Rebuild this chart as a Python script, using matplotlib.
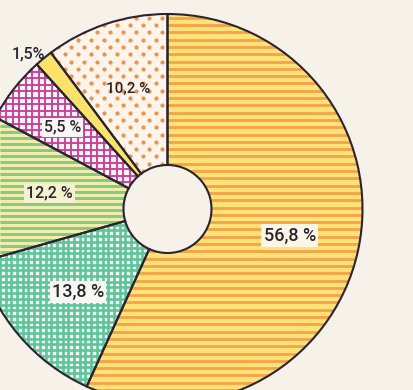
import numpy as np
import matplotlib.pyplot as plt
from matplotlib.collections import LineCollection

# Anteile in Prozent, im Uhrzeigersinn ab 12 Uhr
shares = [56.8, 13.8, 12.2, 5.5, 1.5, 10.2]
gaps = [" ", " ", " ", " ", "", " "]
labels = [f"{v:.1f}".replace(".", ",") + g + "%" for v, g in zip(shares, gaps)]

# Layout (alles in Pixeln der Abbildung)
W, H = 414, 390
cx, cy = 167.5, H - 209
R, r_hole = 195, 44
paper = "#f6f2ea"
ink = "#2a2430"

base_cols = ["#ffe27a", "#f5f8ef", "#f2eea8", "#fbf5f5", "#fbe26a", "#fdf5ec"]
label_r = [125, 122, 119, 133, 208, 126]
label_da = [0, -2, 1.5, 0, -2.5, 0]  # Winkelkorrektur in Grad
label_fs = [13, 13, 11.5, 11.5, 11.5, 11]
label_box = ["#fcf6e6", "#f8f8f2", "#f5f2d2", "#fbf6f4", None, None]

fig = plt.figure(figsize=(W / 100, H / 100), dpi=100)
fig.patch.set_facecolor(paper)
ax = fig.add_axes([0, 0, 1, 1])
ax.set_facecolor(paper)

wedges, _ = ax.pie(shares, radius=R, center=(cx, cy), startangle=90,
                   counterclock=False, colors=base_cols,
                   wedgeprops=dict(width=R - r_hole, linewidth=0, zorder=1))


def px(v):
    return v * 0.72  # Pixel -> Punkt bei 100 dpi


def lines(wedge, color, period, lw, vertical=False, off=0.0):
    if vertical:
        segs = [[(x, 0), (x, H)] for x in np.arange(off, W + period, period)]
    else:
        segs = [[(0, y), (W, y)] for y in np.arange(off, H + period, period)]
    lc = LineCollection(segs, colors=color, linewidths=px(lw), zorder=2)
    lc.set_clip_path(wedge)
    ax.add_collection(lc)


def dots(wedge, color, dx, dy, d):
    pts = []
    for i, y in enumerate(np.arange(0, H + dy, dy)):
        for x in np.arange((i % 2) * dx / 2, W + dx, dx):
            pts.append((x, y))
    pts = np.array(pts)
    sc = ax.scatter(pts[:, 0], pts[:, 1], s=px(d) ** 2, color=color,
                    linewidths=0, zorder=2)
    sc.set_clip_path(wedge)


# Schraffuren
lines(wedges[0], "#f4a347", 7.3, 2.8)
lines(wedges[1], "#5ec49b", 5.7, 2.6)
lines(wedges[1], "#5ec49b", 5.7, 2.6, vertical=True)
lines(wedges[2], "#86c98c", 6.0, 3.0)
lines(wedges[3], "#c9409b", 6.5, 1.9)
lines(wedges[3], "#c9409b", 6.5, 1.9, vertical=True)
dots(wedges[5], "#f2924a", 13, 7.3, 4.2)

# Umrisse
ax.pie(shares, radius=R, center=(cx, cy), startangle=90, counterclock=False,
       wedgeprops=dict(width=R - r_hole, fill=False, edgecolor=ink,
                       linewidth=1.5, zorder=4))

# Beschriftung
cum = np.cumsum([0] + shares)
for i, lab in enumerate(labels):
    mid = np.deg2rad((cum[i] + cum[i + 1]) / 2 / 100 * 360 + label_da[i])
    x = cx + label_r[i] * np.sin(mid)
    y = cy + label_r[i] * np.cos(mid)
    box = None
    if label_box[i]:
        box = dict(boxstyle="square,pad=0.12", fc=label_box[i], ec="none")
    ax.text(x, y, lab, ha="center", va="center", fontsize=label_fs[i],
            family="Roboto", fontweight="medium", color=ink, bbox=box,
            zorder=5)

ax.set_xlim(0, W)
ax.set_ylim(0, H)
ax.set_aspect("equal")
ax.axis("off")
fig.savefig("out.png", dpi=100, facecolor=paper)
